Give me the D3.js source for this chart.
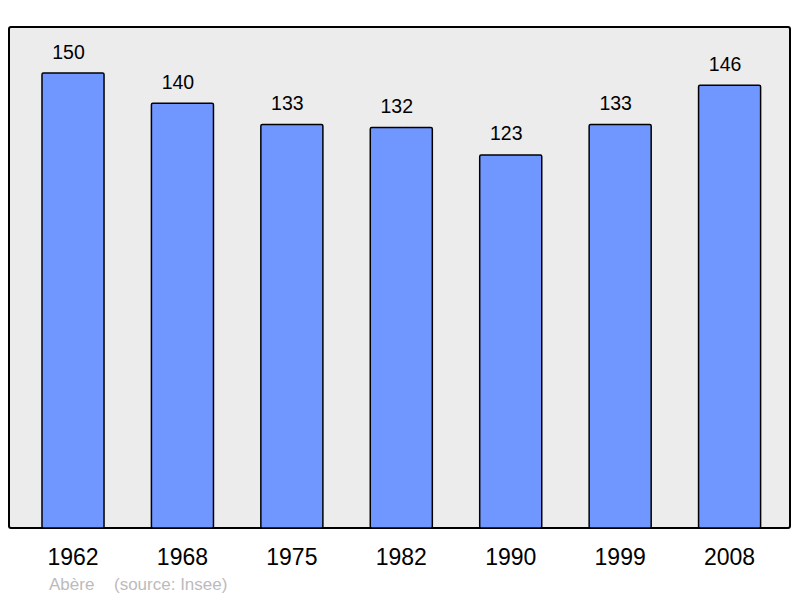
<!DOCTYPE html>
<html>
<head>
<meta charset="utf-8">
<script src="https://cdn.jsdelivr.net/npm/d3@7"></script>
<style>
  body { margin: 0; background: #fff; }
  text { font-family: "Liberation Sans", Arial, sans-serif; }
</style>
</head>
<body>
<div id="chart"></div>
<script>
const years = ["1962", "1968", "1975", "1982", "1990", "1999", "2008"];
const population = [150, 140, 133, 132, 123, 133, 146];

const width = 800, height = 598;

const svg = d3.select("#chart").append("svg")
    .attr("width", width)
    .attr("height", height);

// background panel
svg.append("rect")
    .attr("x", 9)
    .attr("y", 27)
    .attr("width", 781)
    .attr("height", 501)
    .attr("rx", 2)
    .attr("fill", "#ececec")
    .attr("stroke", "#000")
    .attr("stroke-width", 2);

const x = d3.scaleBand()
    .domain(years)
    .range([18.3, 784.3])
    .paddingInner(0.433)
    .paddingOuter(0.2165);

const y = d3.scaleLinear()
    .domain([0, 150])
    .range([528, 73]);

const data = years.map((yr, i) => ({ year: yr, value: population[i] }));

svg.selectAll("rect.bar")
    .data(data)
    .enter()
    .append("rect")
    .attr("class", "bar")
    .attr("x", d => x(d.year))
    .attr("y", d => y(d.value))
    .attr("width", x.bandwidth())
    .attr("height", d => y(0) - y(d.value))
    .attr("rx", 1.5)
    .attr("fill", "#7097ff")
    .attr("stroke", "#000")
    .attr("stroke-width", 1.5);

// value labels (sit a little left of the bar centre, as in the original)
svg.selectAll("text.val")
    .data(data)
    .enter()
    .append("text")
    .attr("class", "val")
    .attr("x", d => x(d.year) + x.bandwidth() / 2 - 4.5)
    .attr("y", d => y(d.value) - 14.5)
    .attr("text-anchor", "middle")
    .style("font-size", "19.5px")
    .attr("fill", "#000")
    .text(d => d.value);

// year labels
const xAxis = svg.append("g")
    .attr("transform", "translate(0,565)");
xAxis.selectAll("text")
    .data(years)
    .enter()
    .append("text")
    .attr("x", d => x(d) + x.bandwidth() / 2)
    .attr("text-anchor", "middle")
    .style("font-size", "23px")
    .attr("fill", "#000")
    .text(d => d);

// source note
svg.append("text")
    .attr("x", 49)
    .attr("y", 590)
    .style("font-size", "17px")
    .attr("fill", "#bbbbbb")
    .text("Abère");

svg.append("text")
    .attr("x", 114)
    .attr("y", 590)
    .style("font-size", "17px")
    .attr("fill", "#bbbbbb")
    .text("(source: Insee)");
</script>
</body>
</html>
